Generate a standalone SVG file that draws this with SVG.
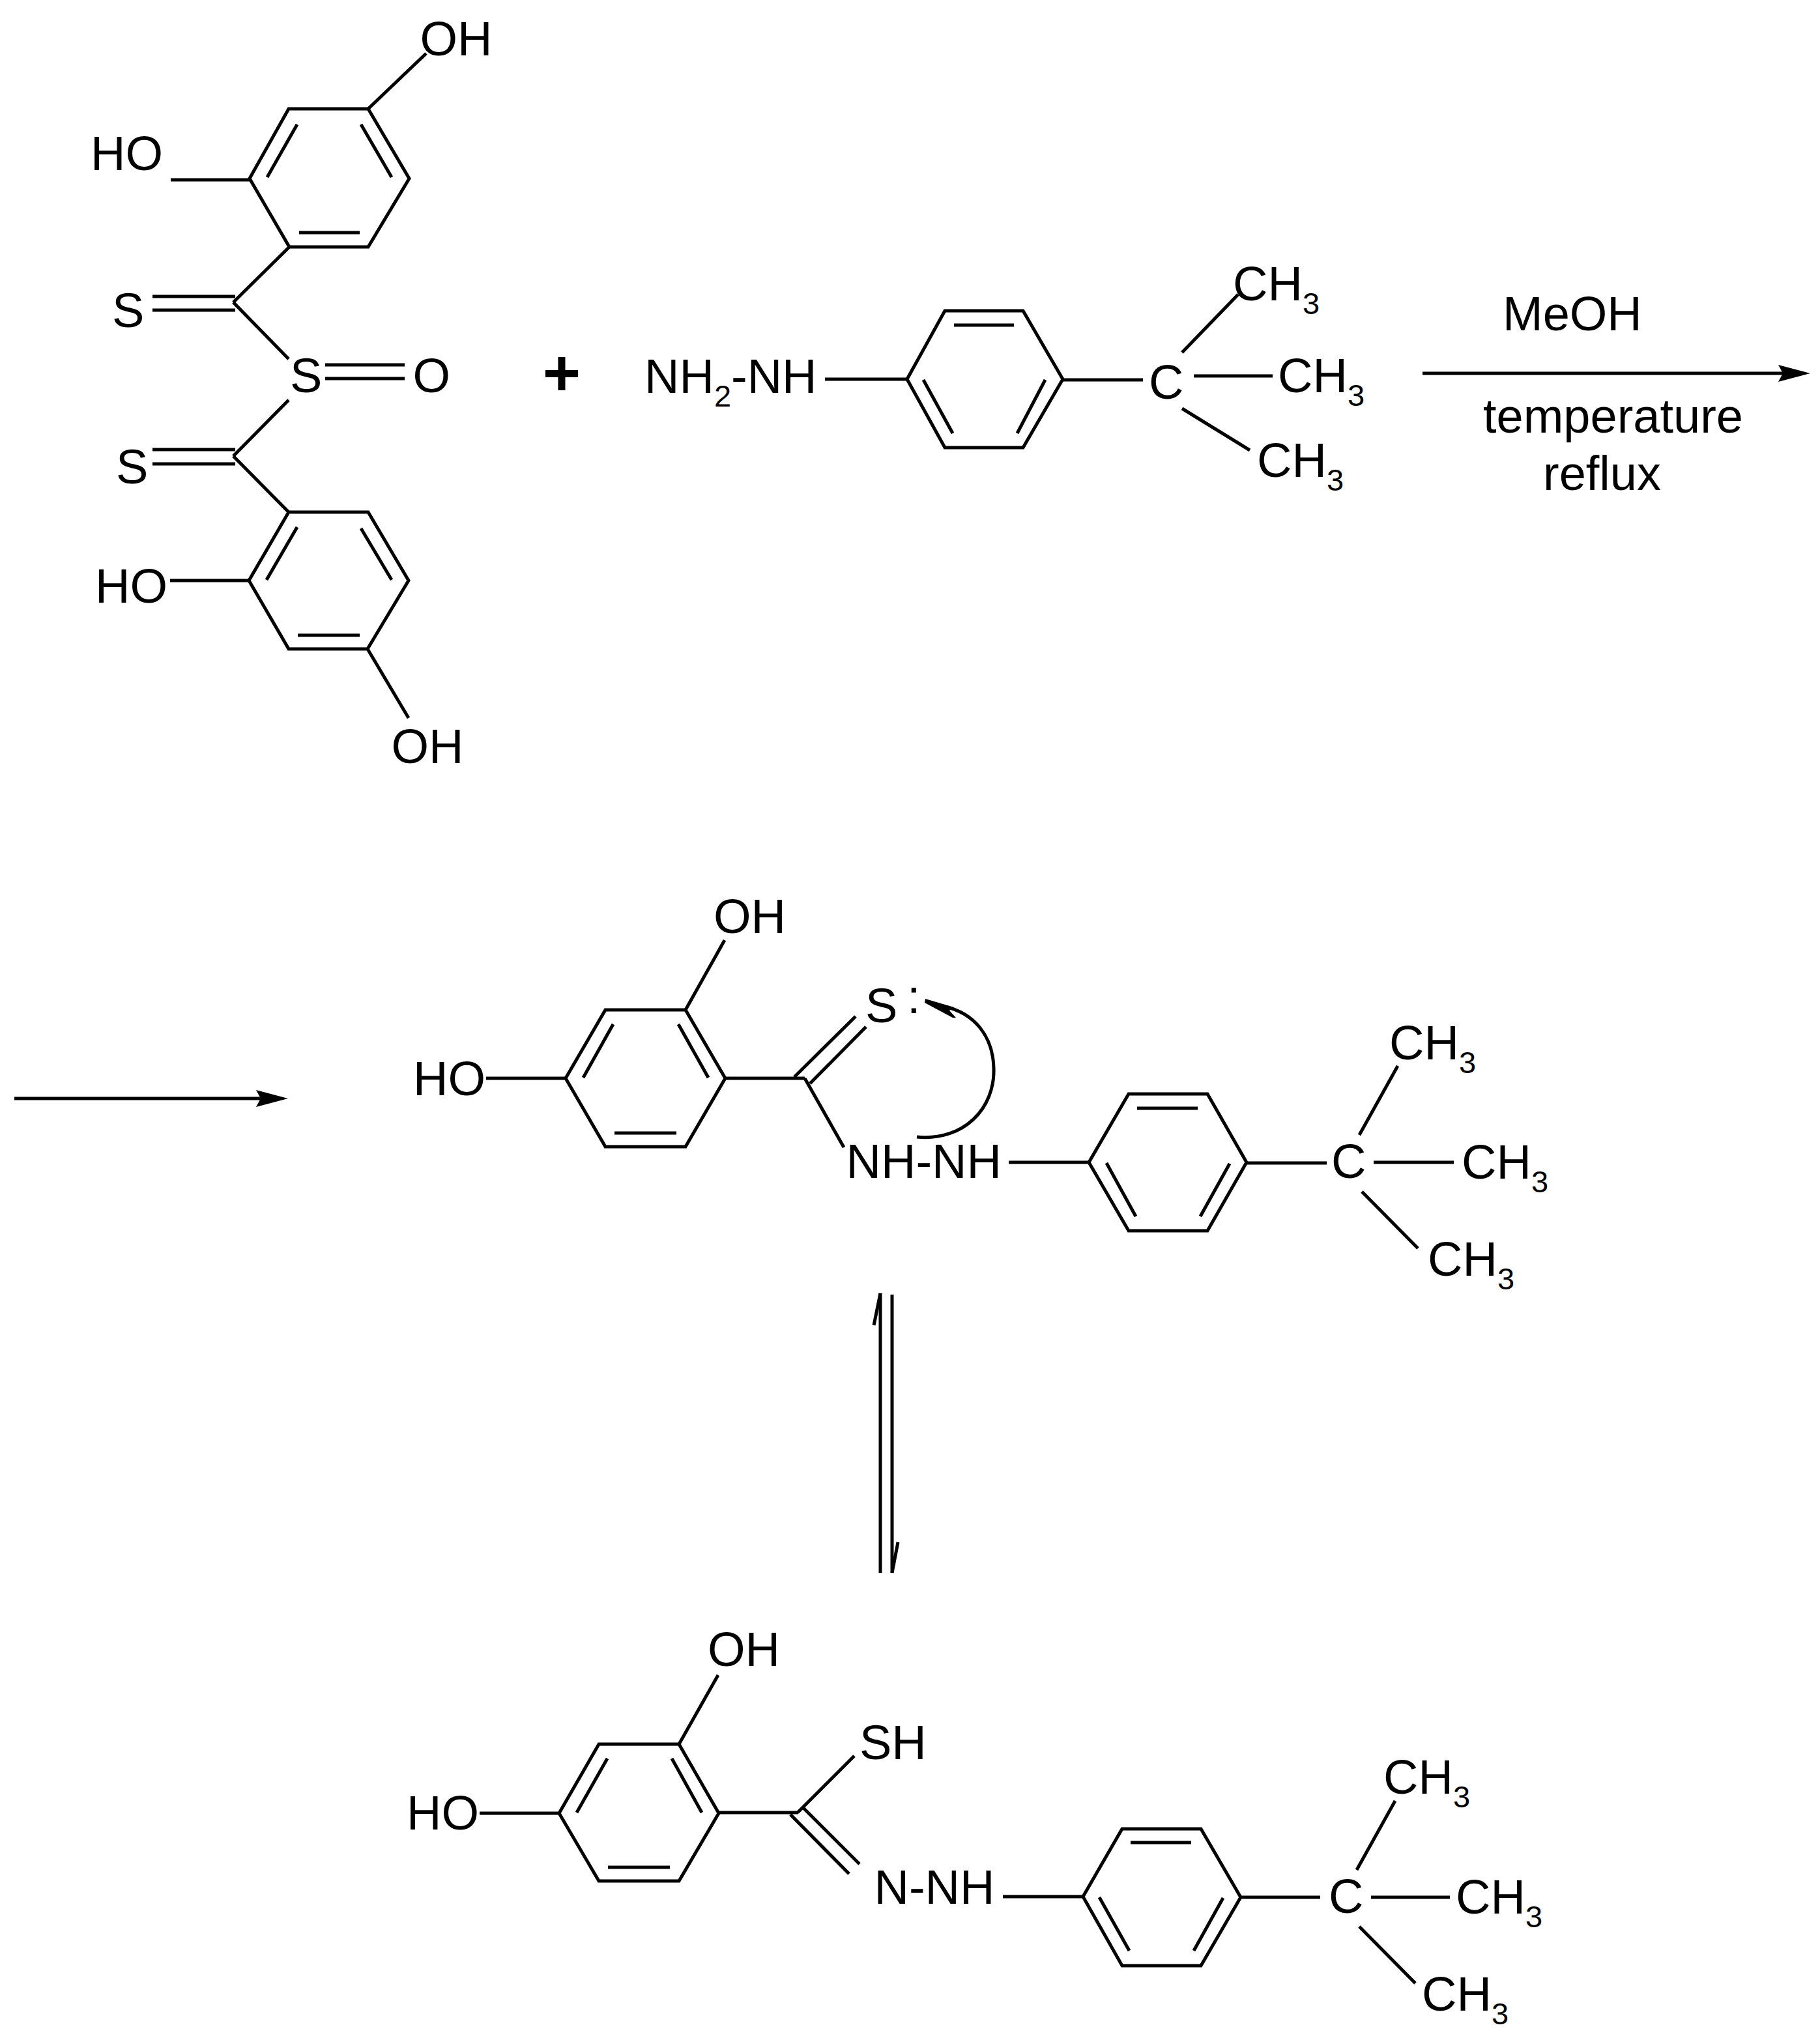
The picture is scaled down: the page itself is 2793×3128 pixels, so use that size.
<svg xmlns="http://www.w3.org/2000/svg" width="2793" height="3128" viewBox="0 0 2793 3128">
<style>
text{font-family:"Liberation Sans",Arial,sans-serif;font-size:74px;fill:#000}
.sub{font-size:47px}
.plus{font-size:100px;font-weight:bold;text-anchor:middle}
line,polygon.r,path.b{stroke:#000;stroke-width:5;fill:none}
polygon.r{stroke-linejoin:miter}
</style>
<defs>
<marker id="head" markerUnits="userSpaceOnUse" markerWidth="52" markerHeight="28" refX="8" refY="14" orient="auto" viewBox="0 0 52 28"><path d="M1,1 L50,14 L1,27 L8,14 Z" fill="#000"/></marker>
</defs>
<rect width="2793" height="3128" fill="#fff"/>

<g id="disulfinyl-reactant">
<polygon class="r" points="443,167 565,167 628,274 565,379 444,379 383,274"/>
<line x1="456" y1="191" x2="410" y2="272"/>
<line x1="554" y1="191" x2="601" y2="272"/>
<line x1="459" y1="357" x2="552" y2="357"/>
<line x1="565" y1="167" x2="654" y2="82"/>
<line x1="383" y1="276" x2="262" y2="276"/>
<line x1="444" y1="379" x2="358" y2="464"/>
<line x1="234" y1="455" x2="361" y2="455"/>
<line x1="234" y1="476" x2="361" y2="476"/>
<line x1="358" y1="464" x2="443" y2="551"/>
<line x1="499" y1="560" x2="621" y2="560"/>
<line x1="499" y1="581" x2="621" y2="581"/>
<line x1="443" y1="614" x2="358" y2="700"/>
<line x1="234" y1="690" x2="361" y2="690"/>
<line x1="234" y1="712" x2="361" y2="712"/>
<line x1="358" y1="700" x2="443" y2="786"/>
<polygon class="r" points="443,786 565,786 627,891 564,996 443,996 382,891"/>
<line x1="456" y1="809" x2="409" y2="890"/>
<line x1="554" y1="811" x2="601" y2="890"/>
<line x1="457" y1="975" x2="552" y2="975"/>
<line x1="382" y1="891" x2="261" y2="891"/>
<line x1="564" y1="996" x2="627" y2="1102"/>
<text x="644.5" y="85">OH</text>
<text x="139" y="261">HO</text>
<text x="172" y="502">S</text>
<text x="445" y="602">S</text>
<text x="633.5" y="602">O</text>
<text x="178" y="742">S</text>
<text x="146" y="925">HO</text>
<text x="600.5" y="1171">OH</text>
</g>

<g id="plus"><text class="plus" x="862" y="607">+</text></g>

<g id="hydrazine-reactant">
<text x="989" y="603">NH<tspan class="sub" dy="21">2</tspan><tspan dy="-21">-NH</tspan></text>
<line x1="1266" y1="582" x2="1392" y2="582"/>
<polygon class="r" points="1392,582 1450,477 1570,477 1631,582 1570,687 1450,687"/>
<line x1="1464" y1="499" x2="1556" y2="499"/>
<line x1="1417" y1="583" x2="1462" y2="665"/>
<line x1="1604" y1="583" x2="1561" y2="665"/>
<line x1="1631" y1="583" x2="1754" y2="583"/>
<text x="1763" y="612">C</text>
<line x1="1832" y1="577" x2="1953" y2="577"/>
<line x1="1814" y1="541" x2="1900" y2="452"/>
<line x1="1814" y1="627" x2="1918" y2="691"/>
<text x="1892" y="461">CH<tspan class="sub" dy="21">3</tspan></text>
<text x="1961" y="602">CH<tspan class="sub" dy="21">3</tspan></text>
<text x="1929" y="732">CH<tspan class="sub" dy="21">3</tspan></text>
</g>

<g id="conditions">
<text x="2306" y="507">MeOH</text>
<text x="2276" y="664">temperature</text>
<text x="2368" y="752">reflux</text>
</g>

<g id="thione-product">
<polygon class="r" points="929,1550 1052,1550 1113,1655 1052,1760 929,1760 868,1655"/>
<line x1="941" y1="1572" x2="895" y2="1654"/>
<line x1="1041" y1="1572" x2="1087" y2="1654"/>
<line x1="943" y1="1739" x2="1038" y2="1739"/>
<line x1="1052" y1="1550" x2="1112" y2="1443"/>
<line x1="868" y1="1655" x2="746" y2="1655"/>
<line x1="1113" y1="1655" x2="1235" y2="1655"/>
<line x1="1219" y1="1653" x2="1313" y2="1560"/>
<line x1="1243" y1="1663" x2="1329" y2="1576"/>
<line x1="1235" y1="1655" x2="1295" y2="1761"/>
<text x="1095" y="1432">OH</text>
<text x="634" y="1681">HO</text>
<text x="1328" y="1569">S</text>
<text x="1392" y="1555">:</text>
<text x="1298.5" y="1808">NH-NH</text>
<line x1="1548" y1="1784" x2="1671" y2="1784"/>
<polygon class="r" points="1671,1784 1732,1679 1853,1679 1913,1784 1853,1889 1732,1889"/>
<line x1="1745" y1="1701" x2="1838" y2="1701"/>
<line x1="1698" y1="1785" x2="1743" y2="1867"/>
<line x1="1887" y1="1786" x2="1842" y2="1867"/>
<line x1="1913" y1="1785" x2="2036" y2="1785"/>
<text x="2043" y="1808">C</text>
<line x1="2086" y1="1742" x2="2145" y2="1636"/>
<line x1="2108" y1="1784" x2="2231" y2="1784"/>
<line x1="2090" y1="1829" x2="2176" y2="1916"/>
<text x="2132" y="1626">CH<tspan class="sub" dy="21">3</tspan></text>
<text x="2243" y="1809">CH<tspan class="sub" dy="21">3</tspan></text>
<text x="2191" y="1958">CH<tspan class="sub" dy="21">3</tspan></text>
</g>

<g id="thiol-product">
<polygon class="r" points="919,2677 1042,2677 1103,2783 1042,2887 919,2887 858,2783"/>
<line x1="932" y1="2699" x2="885" y2="2782"/>
<line x1="1031" y1="2699" x2="1077" y2="2782"/>
<line x1="933" y1="2866" x2="1028" y2="2866"/>
<line x1="1042" y1="2677" x2="1102" y2="2571"/>
<line x1="858" y1="2783" x2="736" y2="2783"/>
<line x1="1103" y1="2782" x2="1225" y2="2782"/>
<line x1="1224" y1="2782" x2="1311" y2="2695"/>
<line x1="1233" y1="2775" x2="1319" y2="2861"/>
<line x1="1213" y1="2785" x2="1303" y2="2876"/>
<text x="1086" y="2557">OH</text>
<text x="624" y="2808">HO</text>
<text x="1319" y="2700">SH</text>
<text x="1341.5" y="2922">N-NH</text>
<line x1="1539" y1="2911" x2="1662" y2="2911"/>
<polygon class="r" points="1662,2911 1722,2807 1843,2807 1904,2912 1843,3017 1722,3017"/>
<line x1="1735" y1="2828" x2="1828" y2="2828"/>
<line x1="1687" y1="2912" x2="1733" y2="2994"/>
<line x1="1877" y1="2913" x2="1832" y2="2994"/>
<line x1="1904" y1="2912" x2="2026" y2="2912"/>
<text x="2039" y="2936">C</text>
<line x1="2082" y1="2870" x2="2141" y2="2764"/>
<line x1="2104" y1="2912" x2="2225" y2="2912"/>
<line x1="2086" y1="2957" x2="2172" y2="3044"/>
<text x="2123" y="2753">CH<tspan class="sub" dy="21">3</tspan></text>
<text x="2234" y="2937">CH<tspan class="sub" dy="21">3</tspan></text>
<text x="2182" y="3086">CH<tspan class="sub" dy="21">3</tspan></text>
</g>

<g id="connectors">
<line id="arrow-top" x1="2183" y1="573" x2="2736" y2="573" marker-end="url(#head)"/>
<line id="arrow-continued" x1="22" y1="1686" x2="400" y2="1686" marker-end="url(#head)"/>
<g id="equilibrium">
<line x1="1351" y1="1985" x2="1351" y2="2414"/>
<line x1="1351" y1="1985" x2="1341" y2="2034"/>
<line x1="1369" y1="1987" x2="1369" y2="2414"/>
<line x1="1369" y1="2414" x2="1378" y2="2367"/>
</g>
<g id="electron-arrow">
<path class="b" d="M1407,1745 C1480,1752 1527,1700 1525,1640 C1524,1590 1495,1555 1450,1545"/>
<path d="M1420,1533 L1464,1546 L1457,1551 L1467,1562 L1462,1562 L1419,1539 Z" fill="#000"/>
</g>
</g>
</svg>
